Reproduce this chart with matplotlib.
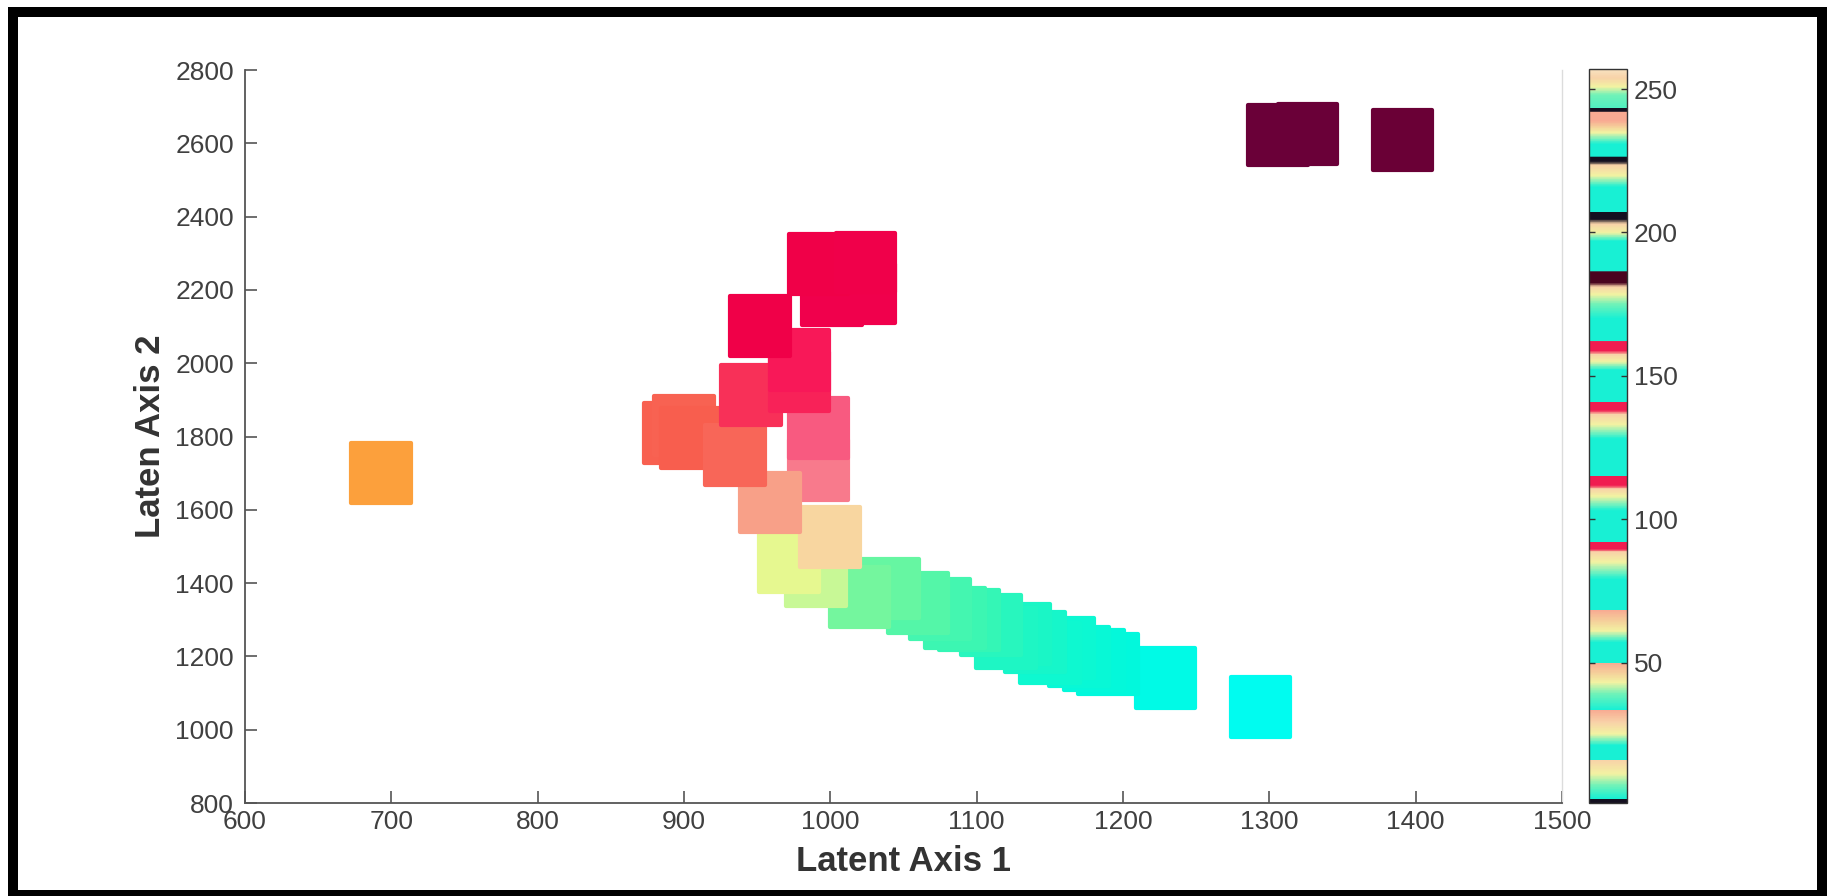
import matplotlib
matplotlib.use('Agg')
import matplotlib.pyplot as plt
from matplotlib.colors import LinearSegmentedColormap, Normalize
from matplotlib.cm import ScalarMappable
from matplotlib.patches import Rectangle

plt.rcParams['font.family'] = ['Liberation Sans', 'DejaVu Sans']

# ------------------------------
# data
# ------------------------------
latent_1 = [1294, 1229, 1190, 1180, 1170, 1160, 1150, 1140, 1130, 1120, 1110, 1095,
            1085, 1075, 1060, 1040, 1020,
            990, 972, 992, 992, 1000, 959,
            893, 900, 905, 935, 946, 979, 979, 952,
            1001, 1024, 992, 1024,
            693, 1306, 1326, 1391]
latent_2 = [1062, 1141, 1180, 1190, 1200, 1222, 1210, 1240, 1262, 1250, 1285, 1300,
            1305, 1330, 1345, 1385, 1362,
            1420, 1458, 1709, 1823, 1525, 1620,
            1810, 1830, 1795, 1750, 1913, 1950, 2009, 2102,
            2186, 2190, 2270, 2275,
            1700, 2623, 2625, 2609]
point_colors = ['#00FCF0', '#00FAE6', '#02F8DC', '#04F8DA', '#08F8D6', '#0CF8D2',
                '#0EF8D0', '#16F6CA', '#1AF6C6', '#1EF6C4', '#28F6BE', '#34F6B6',
                '#3CF6B2', '#44F6B0', '#54F6A8', '#66F6A2', '#74F69E',
                '#C8F896', '#E6F890', '#F87A8C', '#F85A80', '#F8D6A0', '#F8A088',
                '#F86050', '#F86252', '#F85E4E', '#F86658', '#F83058', '#F82258', '#F81858', '#F00048',
                '#F0004C', '#F0004C', '#F00048', '#F0004A',
                '#FCA03C', '#6A0038', '#6A0038', '#6A0036']

x_ticks = [600, 700, 800, 900, 1000, 1100, 1200, 1300, 1400, 1500]
y_ticks = [800, 1000, 1200, 1400, 1600, 1800, 2000, 2200, 2400, 2600, 2800]
cbar_ticks = [50, 100, 150, 200, 250]

# colour bar stops (value, colour), bottom to top
AQ, GA, YE, PE = '#18F0D4', '#70F2B8', '#F2F2A2', '#F8D2A8'
SA, RD, BK, MR = '#F8AA92', '#F01C50', '#141020', '#4A0420'
cbar_values = [1.0, 2.4, 2.5, 7, 11, 15.9,
               16.0, 21, 25, 29, 33.4,
               33.5, 39, 43, 49.9,
               50.0, 57, 61, 68.2,
               68.3, 79, 85, 88.5, 89.5, 91.9,
               92.0, 103, 108, 110.5, 111.7, 114.9,
               115.0, 128, 133, 136.5, 138, 140.9,
               141.0, 152, 155, 157.5, 158.7, 161.9,
               162.0, 170, 175, 178.5, 181, 182.5, 186.4,
               186.5, 197, 200, 203, 204.8, 207.3,
               207.4, 216, 220, 223.5, 224.8, 226.4,
               226.5, 231, 235, 239, 242, 242.3, 243.4,
               243.5, 248, 251, 254, 257]
cbar_colors = [BK, BK, AQ, GA, YE, PE,
               AQ, AQ, YE, PE, SA,
               AQ, GA, YE, SA,
               AQ, AQ, YE, SA,
               AQ, AQ, YE, PE, RD, RD,
               AQ, AQ, YE, PE, RD, RD,
               AQ, AQ, YE, PE, RD, RD,
               AQ, AQ, YE, PE, RD, RD,
               AQ, AQ, GA, YE, PE, MR, MR,
               AQ, AQ, YE, PE, BK, BK,
               AQ, AQ, YE, PE, BK, BK,
               AQ, AQ, YE, SA, SA, BK, BK,
               '#50F0C0', GA, YE, PE, '#F8E2C0']

# ------------------------------
# figure
# ------------------------------
W, H = 1835, 896
fig = plt.figure(figsize=(W / 100, H / 100), dpi=100)
ax = fig.add_axes([245 / W, (H - 803) / H, (1562 - 245) / W, (803 - 70) / H])
cax = fig.add_axes([1589 / W, (H - 803) / H, 38 / W, (803 - 69) / H])

ax.scatter(latent_1, latent_2, s=1850, marker='s', c=point_colors,
           edgecolors=point_colors, linewidths=3, joinstyle='round')

ax.set_xlim(600, 1500)
ax.set_ylim(800, 2800)
ax.set_xticks(x_ticks)
ax.set_yticks(y_ticks)
ax.tick_params(direction='in', length=8.5, width=1.2, color='#555555',
               labelsize=19, labelcolor='#404040')
ax.tick_params(axis='x', pad=5)
ax.tick_params(axis='y', pad=8)
ax.spines['top'].set_visible(False)
ax.spines['right'].set_color('#dcdcdc')
ax.spines['right'].set_linewidth(1.0)
for side in ['left', 'bottom']:
    ax.spines[side].set_color('#555555')
    ax.spines[side].set_linewidth(1.3)

ax.set_xlabel('Latent Axis 1', fontsize=25, fontweight='bold', color='#333333', labelpad=8)
ax.set_ylabel('Laten Axis 2', fontsize=25, fontweight='bold', color='#333333', labelpad=6)

# colour bar
positions = [(v - cbar_values[0]) / (cbar_values[-1] - cbar_values[0]) for v in cbar_values]
cmap = LinearSegmentedColormap.from_list('bands', list(zip(positions, cbar_colors)), N=1024)
sm = ScalarMappable(norm=Normalize(cbar_values[0], cbar_values[-1]), cmap=cmap)
cb = fig.colorbar(sm, cax=cax, ticks=cbar_ticks)
cb.outline.set_edgecolor('#333333')
cb.outline.set_linewidth(1.0)
cax.yaxis.set_ticks_position('both')
cax.yaxis.set_label_position('right')
cax.tick_params(direction='in', length=4, width=1.0, color='#333333',
                labelsize=19, labelcolor='#404040', pad=5,
                labelleft=False, labelright=True)

# black frame round the picture
fig.add_artist(Rectangle((12.5 / W, 1 / H), (1822 - 12.5) / W, (895 - 12) / H,
                         transform=fig.transFigure, fill=False, lw=7.2,
                         edgecolor='black', clip_on=False))

fig.savefig('out.png', dpi=100, facecolor='white')
